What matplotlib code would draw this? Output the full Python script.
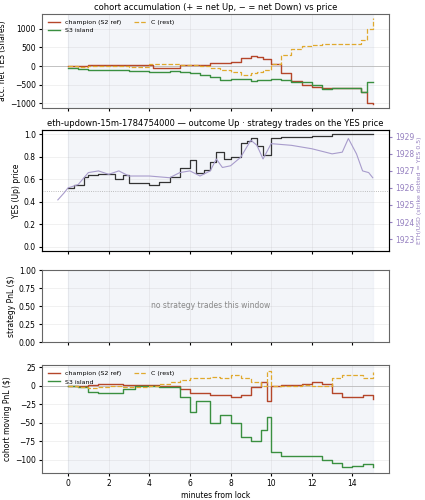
import matplotlib
matplotlib.use("Agg")
import matplotlib.pyplot as plt

# ---- data (minutes from lock, values) ----
acc_t = [0, 0.5, 1, 2, 3, 4, 4.2, 5, 5.5, 6, 6.5, 7, 7.5, 8, 8.5, 9, 9.3, 9.6, 10, 10.5, 11, 11.5, 12, 12.5, 13, 14, 14.4, 14.7, 15]
champ = [0, 10, 20, 25, 20, 20, -60, -60, 20, 20, 20, 80, 90, 100, 220, 260, 230, 200, 50, -200, -400, -520, -560, -580, -600, -600, -700, -1000, -1020]
c_rest = [0, -20, -10, -10, -20, 60, 60, 60, 20, 20, 0, -60, -100, -150, -250, -200, -150, -100, 50, 300, 450, 550, 570, 580, 600, 600, 700, 1000, 1300]
s3 = [-40, -80, -100, -120, -140, -150, -150, -140, -160, -200, -250, -300, -380, -360, -360, -400, -380, -380, -360, -380, -420, -440, -520, -620, -600, -600, -700, -430, -430]

yes_t = [0, 0.3, 0.5, 0.8, 1, 1.5, 2, 2.3, 2.7, 3, 3.5, 4, 4.5, 5, 5.5, 6, 6.3, 6.7, 7, 7.3, 7.7, 8, 8.3, 8.5, 8.8, 9, 9.3, 9.6, 10, 10.5, 11, 12, 13, 14, 15]
yes = [0.52, 0.55, 0.55, 0.62, 0.64, 0.65, 0.65, 0.6, 0.64, 0.57, 0.57, 0.55, 0.58, 0.62, 0.7, 0.77, 0.66, 0.68, 0.75, 0.84, 0.78, 0.8, 0.8, 0.92, 0.94, 0.97, 0.9, 0.82, 0.97, 0.98, 0.98, 0.99, 1.0, 1.0, 1.0]
eth_t = [-0.5, -0.2, 0, 0.5, 1, 1.5, 2, 2.5, 3, 4, 5, 5.5, 6, 6.5, 7, 7.3, 7.6, 8, 8.5, 9, 9.3, 9.6, 10, 11, 12, 13, 13.5, 13.8, 14.2, 14.5, 14.8, 15]
eth = [1925.3, 1925.7, 1926.0, 1926.2, 1926.9, 1927.0, 1926.8, 1927.0, 1926.7, 1926.7, 1926.6, 1926.9, 1927.0, 1926.7, 1927.0, 1927.7, 1927.2, 1927.3, 1927.8, 1928.8, 1928.5, 1927.7, 1928.6, 1928.5, 1928.3, 1928.0, 1928.1, 1928.9, 1928.0, 1927.0, 1926.9, 1926.6]

pnl_t = [0, 0.5, 1, 1.5, 2, 2.7, 3.3, 4, 4.5, 5, 5.5, 6, 6.3, 7, 7.5, 8, 8.5, 9, 9.5, 9.8, 10, 10.5, 11, 11.5, 12, 12.5, 13, 13.5, 14, 14.5, 15]
p_champ = [0, 0, 1, 2, 2, 1, 1, 1, 0, 0, -5, -10, -10, -12, -12, -15, -12, -2, 5, -20, 0, 1, 1, 2, 5, 2, -10, -15, -15, -12, -18]
p_crest = [0, -2, -3, -2, 0, -2, -2, 0, 2, 5, 8, 10, 10, 12, 10, 15, 10, 5, 0, 20, 0, 0, 0, 1, 0, 0, 10, 15, 15, 10, 18]
p_s3 = [0, -2, -8, -10, -10, -5, 0, 0, -2, -2, -15, -35, -20, -50, -40, -50, -70, -75, -60, -42, -90, -95, -95, -95, -95, -100, -105, -110, -108, -106, -110]

fig = plt.figure(figsize=(4.25, 5), dpi=100)
W, H = 425, 500
def ax_at(x0, y0, x1, y1):
    return fig.add_axes([x0 / W, 1 - y1 / H, (x1 - x0) / W, (y1 - y0) / H])

RED, GOLD, GREEN = "#b5462a", "#e0a92e", "#3a8f40"
XL = (-1.28, 15.8)
FS = 5.5
def shade(ax):
    ax.axvspan(0, 15, color="#e8ecf5", alpha=0.5, zorder=0)
    ax.grid(True, alpha=0.25, lw=0.5)
    ax.set_xlim(*XL)
    ax.tick_params(labelsize=FS, length=2.5, pad=2)
    ax.set_xticks(range(0, 16, 2))
    for s in ax.spines.values():
        s.set_color("#666")

ax1 = ax_at(42, 14, 389, 108)
shade(ax1)
ax1.axhline(0, color="#bbb", lw=0.6)
ax1.step(acc_t, champ, where="post", color=RED, lw=1.0, label="champion (S2 ref)")
ax1.step(acc_t, s3, where="post", color=GREEN, lw=1.0, label="S3 island")
ax1.step(acc_t, c_rest, where="post", color=GOLD, lw=0.9, ls="--", label="C (rest)")
ax1.set_ylim(-1130, 1400)
ax1.set_yticks([-1000, -500, 0, 500, 1000])
ax1.set_xticklabels([])
ax1.set_ylabel("acc. net YES (shares)", fontsize=FS, labelpad=2)
ax1.set_title("cohort accumulation (+ = net Up, − = net Down) vs price", fontsize=6, pad=3)
h, l = ax1.get_legend_handles_labels()
ax1.legend([h[0], h[1], h[2]], [l[0], l[1], l[2]], ncol=2, fontsize=4.5, loc="upper left", frameon=False)

ax2 = ax_at(42, 130, 389, 251)
shade(ax2)
ax2.axhline(0.5, color="#aaa", lw=0.6, ls=":")
ax2.step(yes_t, yes, where="post", color="#333", lw=0.9)
ax2.set_ylim(-0.04, 1.04)
ax2.set_xticklabels([])
ax2.set_ylabel("YES (Up) price", fontsize=FS, labelpad=2)
ax2.set_title("eth-updown-15m-1784754000 — outcome Up · strategy trades on the YES price", fontsize=6, pad=3)
ax2b = ax2.twinx()
ax2b.plot(eth_t, eth, color="#a89ccc", lw=0.8)
ax2b.set_ylim(1922.3, 1929.4)
ax2b.set_yticks(range(1923, 1930))
ax2b.tick_params(labelsize=FS, colors="#9580c0", length=2.5, pad=2)
ax2b.set_ylabel("ETH/USD (strike dotted = YES 0.5)", fontsize=4.5, color="#9580c0", labelpad=2)

ax3 = ax_at(42, 270, 389, 342)
shade(ax3)
ax3.set_ylim(0, 1)
ax3.set_xticklabels([])
ax3.set_ylabel("strategy PnL ($)", fontsize=FS, labelpad=2)
ax3.text(7, 0.5, "no strategy trades this window", ha="center", va="center", fontsize=5.5, color="#888")

ax4 = ax_at(42, 365, 389, 473)
shade(ax4)
ax4.axhline(0, color="#bbb", lw=0.6)
ax4.step(pnl_t, p_champ, where="post", color=RED, lw=1.0, label="champion (S2 ref)")
ax4.step(pnl_t, p_s3, where="post", color=GREEN, lw=1.0, label="S3 island")
ax4.step(pnl_t, p_crest, where="post", color=GOLD, lw=0.9, ls="--", label="C (rest)")
ax4.set_ylim(-118, 28)
ax4.set_yticks([-100, -75, -50, -25, 0, 25])
ax4.set_ylabel("cohort moving PnL ($)", fontsize=FS, labelpad=2)
ax4.set_xlabel("minutes from lock", fontsize=FS, labelpad=2)
ax4.legend(ncol=2, fontsize=4.5, loc="upper left", frameon=False)

fig.savefig("out.png", dpi=100)
